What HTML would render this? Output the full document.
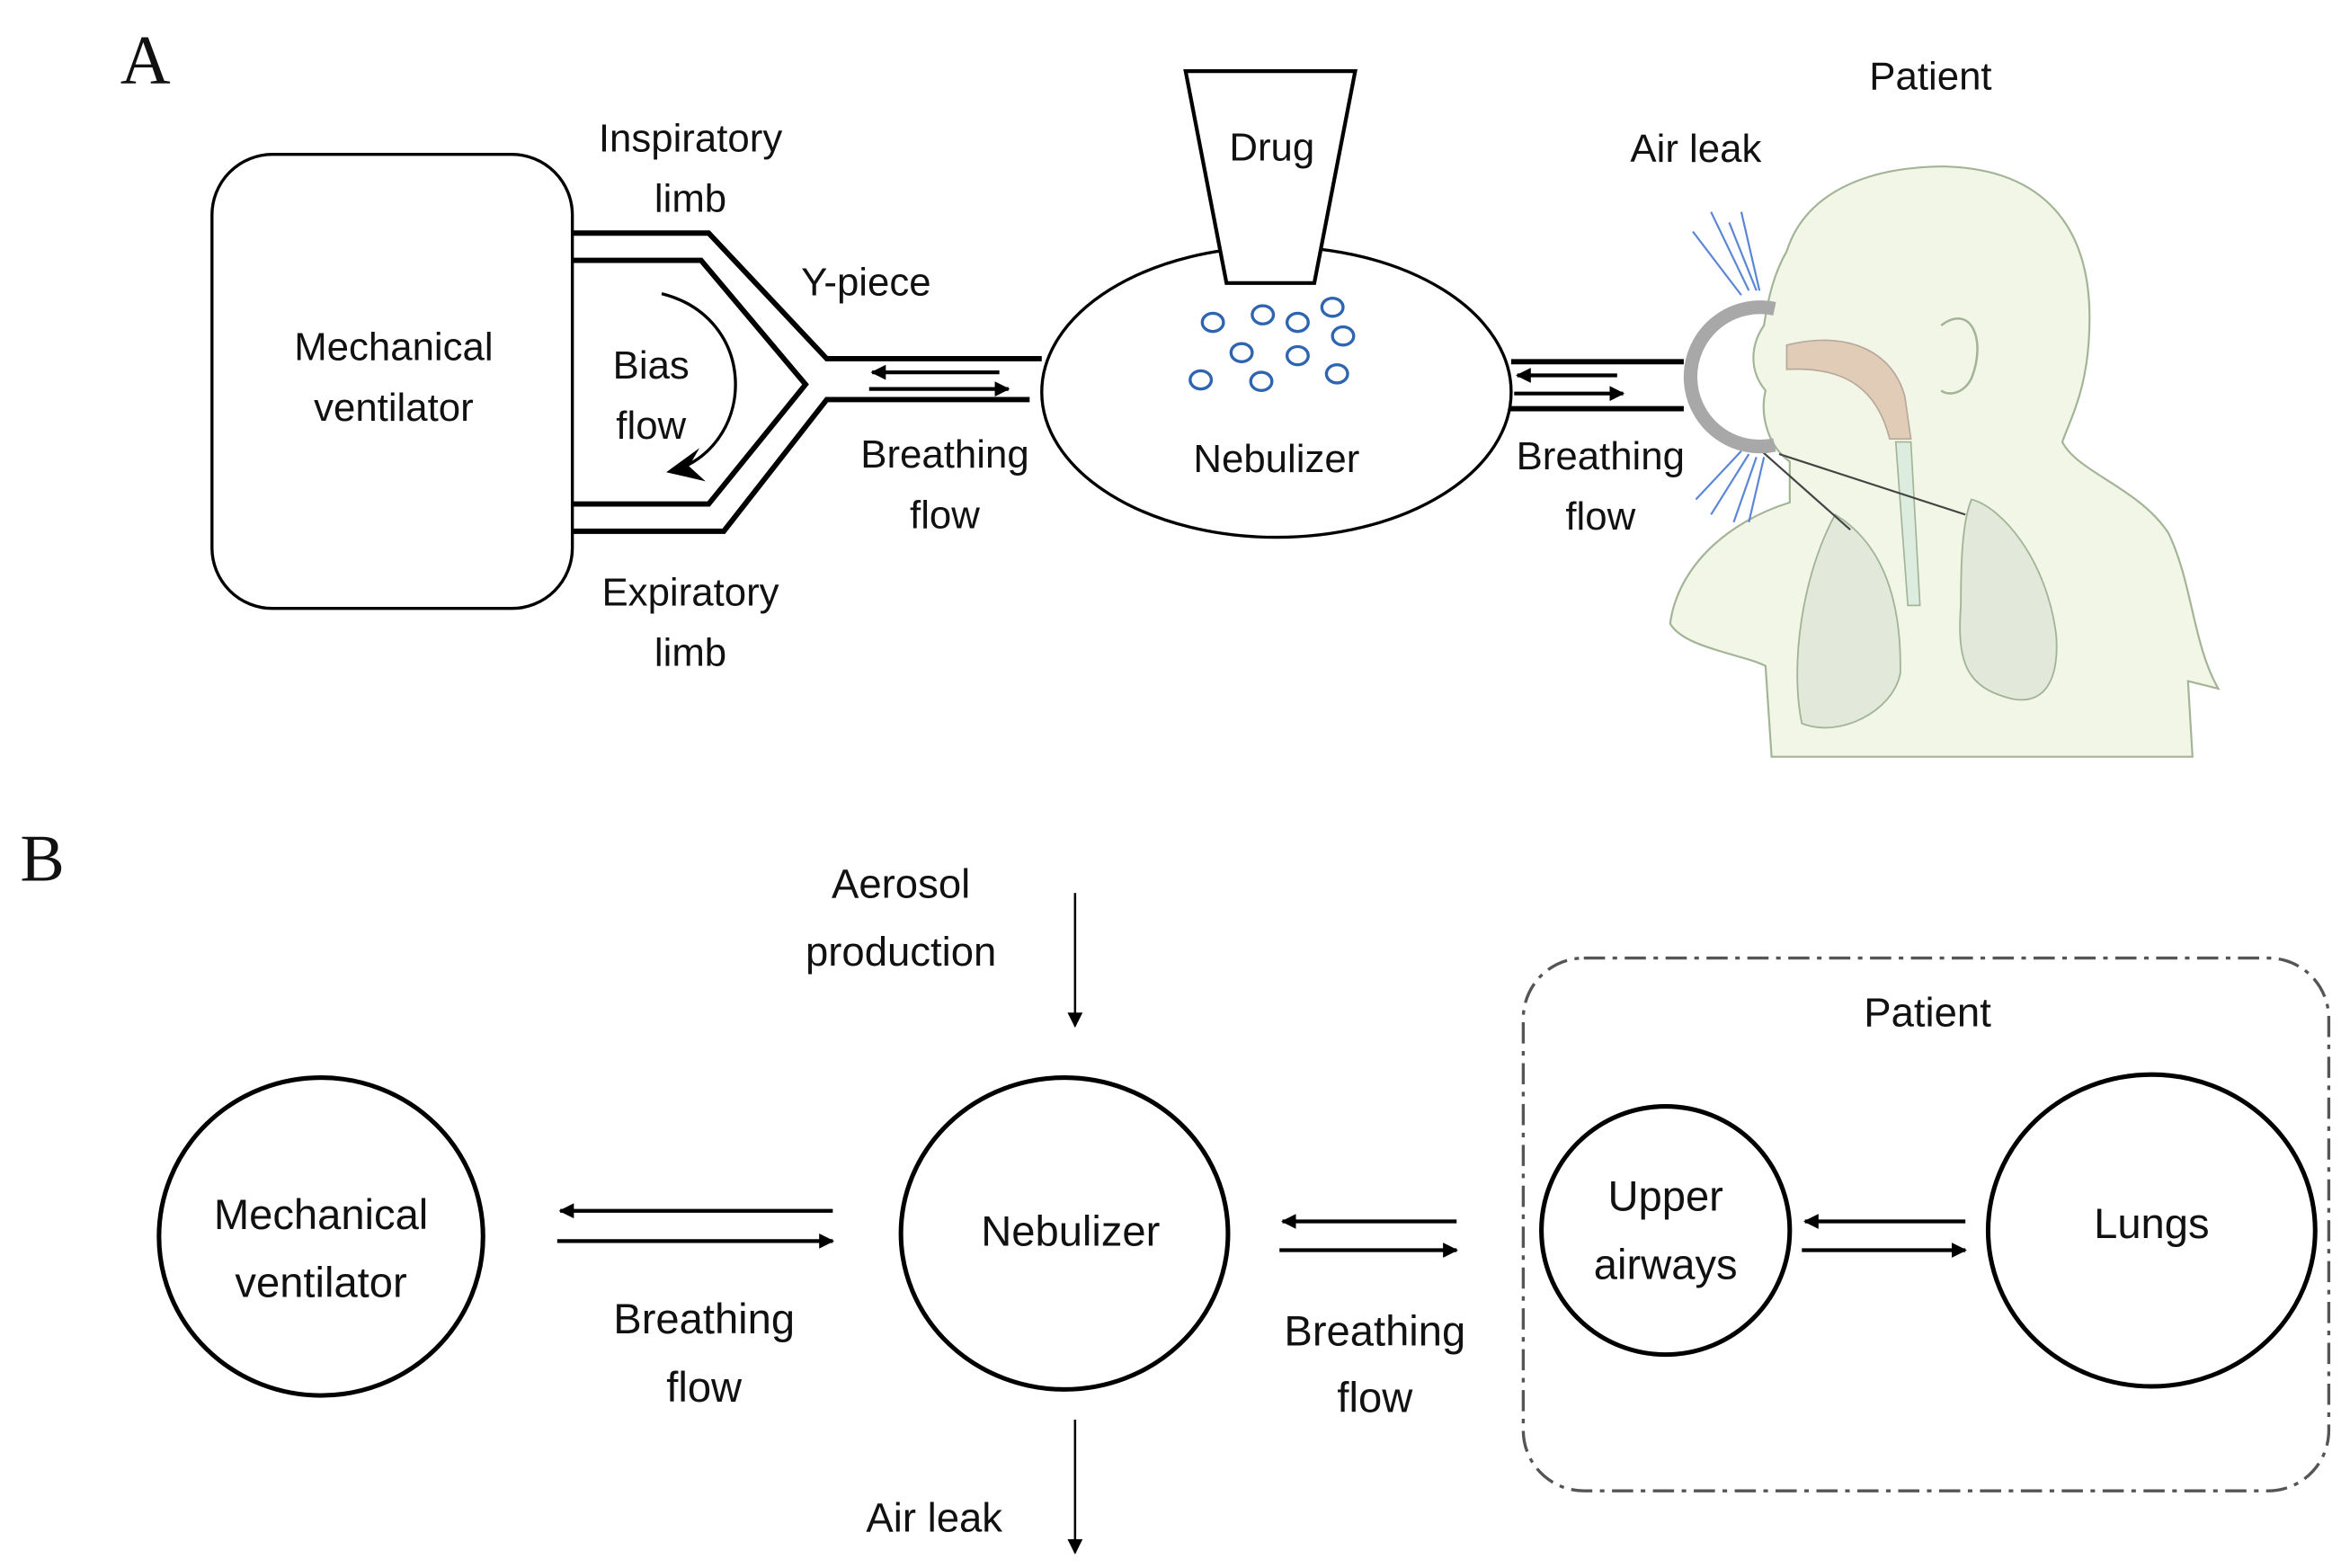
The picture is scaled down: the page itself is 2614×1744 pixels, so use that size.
<!DOCTYPE html>
<html><head><meta charset="utf-8"><style>
html,body{margin:0;padding:0;background:#fff}
svg{display:block}
text{font-family:"Liberation Sans",sans-serif;font-size:26px;fill:#111;text-anchor:middle}
</style></head><body>
<svg width="2614" height="1744" viewBox="0 0 1552 1036" preserveAspectRatio="none" xmlns="http://www.w3.org/2000/svg">
<defs>
<marker id="ah" markerWidth="10" markerHeight="10" refX="9" refY="5" orient="auto" markerUnits="userSpaceOnUse"><path d="M0,0 L10,5 L0,10 Z" fill="#000"/></marker>
<marker id="ahs" markerWidth="10" markerHeight="10" refX="9" refY="5" orient="auto" markerUnits="userSpaceOnUse"><path d="M0,0 L10,5 L0,10 Z" fill="#000"/></marker>
</defs>
<!-- Panel A -->
<text x="96" y="55" style="font-family:'Liberation Serif',serif;font-size:46px">A</text>
<rect x="140" y="102" width="238" height="300" rx="40" fill="none" stroke="#000" stroke-width="2"/>
<text x="260" y="238">Mechanical</text>
<text x="260" y="278">ventilator</text>
<g fill="none" stroke="#000" stroke-width="3.5">
<polyline points="378,154 468,154 546,237 688,237"/>
<polyline points="378,172 463,172 532,254 468,333 378,333"/>
<polyline points="378,351 478,351 546,264 680,264"/>
<line x1="998" y1="239" x2="1112" y2="239"/>
<line x1="990" y1="270" x2="1112" y2="270"/>
</g>
<g stroke="#000" stroke-width="2.5">
<line x1="660" y1="246" x2="576" y2="246" marker-end="url(#ahs)"/>
<line x1="574" y1="257" x2="666" y2="257" marker-end="url(#ahs)"/>
<line x1="1068" y1="248" x2="1002" y2="248" marker-end="url(#ahs)"/>
<line x1="1000" y1="260" x2="1072" y2="260" marker-end="url(#ahs)"/>
</g>
<path d="M437,194 C500,210 500,290 448,310" fill="none" stroke="#000" stroke-width="2"/>
<path d="M440,312 L462,296 L455,308 L466,318 Z" fill="#000"/>
<text x="430" y="250">Bias</text>
<text x="430" y="290">flow</text>
<text x="456" y="100">Inspiratory</text>
<text x="456" y="140">limb</text>
<text x="572" y="195">Y-piece</text>
<text x="624" y="309">Breathing</text>
<text x="624" y="349">flow</text>
<text x="456" y="400">Expiratory</text>
<text x="456" y="440">limb</text>
<ellipse cx="843" cy="259" rx="155" ry="96" fill="#fff" stroke="#000" stroke-width="2"/>
<path d="M783,47 L895,47 L868,187 L810,187 Z" fill="#fff" stroke="#000" stroke-width="2.5"/>
<text x="840" y="106">Drug</text>
<g fill="none" stroke="#2e64b0" stroke-width="2">
<ellipse cx="801" cy="213" rx="7" ry="6"/><ellipse cx="834" cy="208" rx="7" ry="6"/><ellipse cx="857" cy="213" rx="7" ry="6"/><ellipse cx="880" cy="203" rx="7" ry="6"/><ellipse cx="887" cy="222" rx="7" ry="6"/><ellipse cx="820" cy="233" rx="7" ry="6"/><ellipse cx="857" cy="235" rx="7" ry="6"/><ellipse cx="793" cy="251" rx="7" ry="6"/><ellipse cx="833" cy="252" rx="7" ry="6"/><ellipse cx="883" cy="247" rx="7" ry="6"/>
</g>
<text x="843" y="312">Nebulizer</text>
<text x="1057" y="310">Breathing</text>
<text x="1057" y="350">flow</text>
<text x="1275" y="59">Patient</text>
<text x="1120" y="107">Air leak</text>
<!-- child -->
<path d="M1170,500 L1166,440 C1150,432 1112,428 1103,412 C1108,375 1140,345 1182,332 L1182,305 C1168,295 1162,275 1166,258 C1155,245 1156,228 1165,215 C1168,195 1172,180 1180,166 C1192,128 1232,110 1285,110 C1350,112 1380,150 1380,210 C1380,255 1368,275 1362,292 C1372,312 1412,322 1432,352 C1448,385 1448,425 1465,455 L1445,450 L1448,500 Z" fill="#f1f6e6" stroke="#a3b497" stroke-width="1.3"/>
<path d="M1212,340 C1190,380 1182,440 1190,478 C1215,488 1250,470 1255,445 C1256,400 1245,360 1212,340 Z" fill="#e3e9da" stroke="#a3b497" stroke-width="1.1"/>
<path d="M1302,330 C1322,335 1352,370 1358,420 C1360,450 1350,465 1330,462 C1300,455 1292,440 1295,400 C1295,370 1296,345 1302,330 Z" fill="#e3e9da" stroke="#a3b497" stroke-width="1.1"/>
<path d="M1180,228 C1220,218 1250,232 1258,262 L1262,290 L1248,290 C1240,258 1220,242 1180,244 Z" fill="#e1cdb7" stroke="#b9a89a" stroke-width="1"/>
<path d="M1252,292 L1262,292 L1268,400 L1260,400 Z" fill="#dcede0" stroke="#a3b497" stroke-width="1"/>
<path d="M1282,215 C1302,200 1312,225 1302,250 C1297,260 1287,262 1282,258" fill="none" stroke="#a3b497" stroke-width="1.5"/>
<g stroke="#5b86d6" stroke-width="1.3">
<line x1="1118" y1="153" x2="1150" y2="195"/><line x1="1130" y1="140" x2="1155" y2="192"/><line x1="1142" y1="147" x2="1160" y2="192"/><line x1="1150" y1="140" x2="1162" y2="192"/>
<line x1="1120" y1="330" x2="1150" y2="298"/><line x1="1130" y1="340" x2="1155" y2="300"/><line x1="1145" y1="345" x2="1160" y2="302"/><line x1="1155" y1="345" x2="1165" y2="302"/>
</g>
<g stroke="#444" stroke-width="1.3"><line x1="1160" y1="295" x2="1222" y2="350"/><line x1="1175" y1="300" x2="1298" y2="340"/></g>
<path d="M1172,204 A46,46 0 1 0 1172,294" fill="none" stroke="#a8a8a8" stroke-width="9"/>
<!-- Panel B -->
<text x="28" y="582" style="font-family:'Liberation Serif',serif;font-size:44px">B</text>
<text x="595" y="593" style="font-size:27px">Aerosol</text>
<text x="595" y="638" style="font-size:27px">production</text>
<line x1="710" y1="590" x2="710" y2="678" stroke="#000" stroke-width="1.5" marker-end="url(#ahs)"/>
<line x1="710" y1="938" x2="710" y2="1026" stroke="#000" stroke-width="1.5" marker-end="url(#ahs)"/>
<text x="617" y="1012" style="font-size:27px">Air leak</text>
<g fill="none" stroke="#000" stroke-width="3">
<ellipse cx="212" cy="817" rx="107" ry="105"/>
<ellipse cx="703" cy="815" rx="108" ry="103"/>
<ellipse cx="1100" cy="813" rx="82" ry="82"/>
<ellipse cx="1421" cy="813" rx="108" ry="103"/>
</g>
<rect x="1006" y="633" width="532" height="352" rx="40" fill="none" stroke="#555" stroke-width="2" stroke-dasharray="14,5,3,5"/>
<text x="1273" y="678" style="font-size:27px">Patient</text>
<text x="212" y="812" style="font-size:28px">Mechanical</text>
<text x="212" y="857" style="font-size:28px">ventilator</text>
<text x="707" y="823" style="font-size:28px">Nebulizer</text>
<text x="1100" y="800" style="font-size:28px">Upper</text>
<text x="1100" y="845" style="font-size:28px">airways</text>
<text x="1421" y="818" style="font-size:28px">Lungs</text>
<text x="465" y="881" style="font-size:28px">Breathing</text>
<text x="465" y="926" style="font-size:28px">flow</text>
<text x="908" y="889" style="font-size:28px">Breathing</text>
<text x="908" y="933" style="font-size:28px">flow</text>
<g stroke="#000" stroke-width="2.5">
<line x1="550" y1="800" x2="370" y2="800" marker-end="url(#ah)"/>
<line x1="368" y1="820" x2="550" y2="820" marker-end="url(#ah)"/>
<line x1="962" y1="807" x2="847" y2="807" marker-end="url(#ah)"/>
<line x1="845" y1="826" x2="962" y2="826" marker-end="url(#ah)"/>
<line x1="1298" y1="807" x2="1192" y2="807" marker-end="url(#ah)"/>
<line x1="1190" y1="826" x2="1298" y2="826" marker-end="url(#ah)"/>
</g>
</svg>
</body></html>
